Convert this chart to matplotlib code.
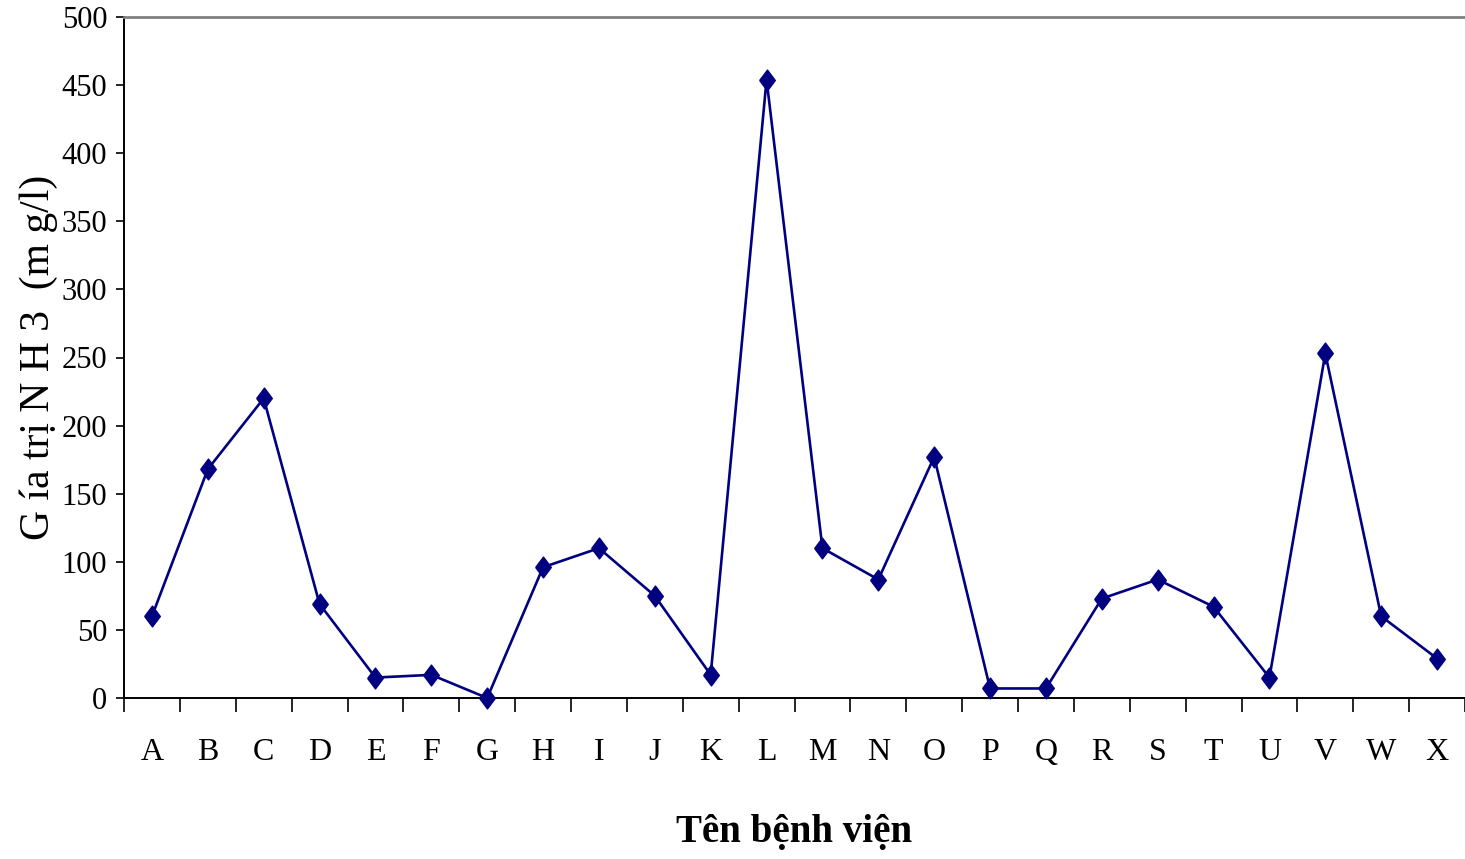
import matplotlib
matplotlib.use("Agg")
import matplotlib.pyplot as plt

# NH3 concentration per hospital (mg/l)
hospitals = ["A", "B", "C", "D", "E", "F", "G", "H", "I", "J", "K", "L",
             "M", "N", "O", "P", "Q", "R", "S", "T", "U", "V", "W", "X"]
nh3_values = [60, 168, 220, 69, 15, 17, 0, 96, 110, 75, 17, 454,
              110, 87, 177, 7, 7, 73, 87, 67, 15, 253, 60, 29]
y_ticks = [0, 50, 100, 150, 200, 250, 300, 350, 400, 450, 500]

plt.rcParams["font.family"] = ["Liberation Serif", "DejaVu Serif"]

fig = plt.figure(figsize=(14.65, 8.59), dpi=100)
ax = fig.add_axes([124 / 1465, 161 / 859, 1 - 124 / 1465, (698 - 17) / 859])

x = list(range(len(hospitals)))
diamond = [(-0.75, 0), (0, 1), (0.75, 0), (0, -1), (-0.75, 0)]
ax.plot(x, nh3_values, color="#000080", lw=1.9, marker=diamond,
        markersize=15, markerfacecolor="#000080", markeredgecolor="#000080",
        clip_on=False, zorder=3)

ax.set_xlim(-0.5, len(hospitals) - 0.5)
ax.set_ylim(0, 500)

# category labels centred, tick marks between categories
ax.set_xticks(x)
ax.set_xticklabels(hospitals, fontsize=23)
ax.set_xticks([i - 0.5 for i in range(len(hospitals) + 1)], minor=True)
ax.tick_params(axis="x", which="major", length=0, pad=29)
ax.tick_params(axis="x", which="minor", length=10, width=1.2, color="black", direction="out")

ax.set_yticks(y_ticks)
ax.set_yticklabels([str(v) for v in y_ticks], fontsize=22)
ax.tick_params(axis="y", length=6, width=1.2, direction="out", pad=6)

for side in ("left", "bottom"):
    ax.spines[side].set_color("black")
    ax.spines[side].set_linewidth(1.4)
ax.spines["right"].set_visible(False)
ax.spines["top"].set_color("#808080")
ax.spines["top"].set_linewidth(2)

ax.set_ylabel("G ía trị N H 3  (m g/l)", fontsize=30)
ax.yaxis.set_label_coords(-0.049, 0.5)
ax.set_xlabel("Tên bệnh viện", fontsize=28, fontweight="bold", labelpad=34)

fig.savefig("out.png", dpi=100, facecolor="white")
